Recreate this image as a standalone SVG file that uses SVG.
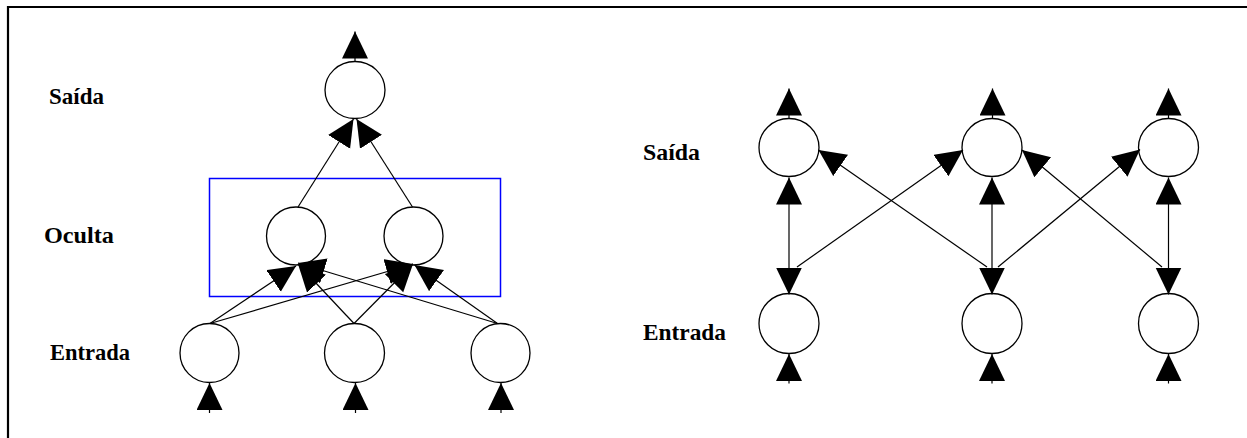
<svg xmlns="http://www.w3.org/2000/svg" width="1247" height="438" viewBox="0 0 1247 438">
<style>
.node{fill:#fff;stroke:#000;stroke-width:1.3}
.edge{fill:none;stroke:#000;stroke-width:1.2;marker-end:url(#arrow)}
.bi{fill:none;stroke:#000;stroke-width:1.2;marker-start:url(#arrowS);marker-end:url(#arrow)}
.lbl{font-family:"Liberation Serif","Times New Roman",serif;font-weight:bold;font-size:23px;fill:#000}
.frame{fill:none;stroke:#000;stroke-width:2.2}
.box{fill:none;stroke:#0000ff;stroke-width:1.5}
</style>
<defs>
<marker id="arrow" markerUnits="userSpaceOnUse" markerWidth="28" markerHeight="27" refX="27" refY="13" orient="auto" viewBox="0 0 28 27">
<path d="M0,0 L27,13 L0,26 z" fill="#000"/>
</marker>
<marker id="arrowS" markerUnits="userSpaceOnUse" markerWidth="28" markerHeight="27" refX="27" refY="13" orient="auto-start-reverse" viewBox="0 0 28 27">
<path d="M0,0 L27,13 L0,26 z" fill="#000"/>
</marker>
</defs>
<rect width="1247" height="438" fill="#fff"/>
<g id="frame">
<path class="frame" d="M8,438 L8,7 L1247,7"/>
</g>
<g id="labels">
<text class="lbl" x="49" y="104" textLength="55" lengthAdjust="spacingAndGlyphs">Saída</text>
<text class="lbl" x="44" y="243" textLength="70" lengthAdjust="spacingAndGlyphs">Oculta</text>
<text class="lbl" x="50" y="360" textLength="80" lengthAdjust="spacingAndGlyphs">Entrada</text>
<text class="lbl" x="643" y="160" textLength="57" lengthAdjust="spacingAndGlyphs">Saída</text>
<text class="lbl" x="643" y="340" textLength="83" lengthAdjust="spacingAndGlyphs">Entrada</text>
</g>
<g id="hidden-layer-box">
<rect class="box" x="209.5" y="178.5" width="291" height="118"/>
</g>
<g id="left-output"><ellipse class="node" cx="355" cy="90" rx="30" ry="28.5"/></g>
<g id="left-hidden-1"><ellipse class="node" cx="296" cy="236" rx="29.5" ry="29"/></g>
<g id="left-hidden-2"><ellipse class="node" cx="413.5" cy="236" rx="29.5" ry="29"/></g>
<g id="left-input-1"><ellipse class="node" cx="209.5" cy="353" rx="29.5" ry="29.5"/></g>
<g id="left-input-2"><ellipse class="node" cx="354.5" cy="353" rx="30" ry="29.5"/></g>
<g id="left-input-3"><ellipse class="node" cx="500.5" cy="353" rx="29.5" ry="29.5"/></g>
<g id="right-output-1"><ellipse class="node" cx="789" cy="147.5" rx="30" ry="29"/></g>
<g id="right-output-2"><ellipse class="node" cx="992" cy="147.5" rx="30" ry="29"/></g>
<g id="right-output-3"><ellipse class="node" cx="1168.5" cy="147.5" rx="30" ry="29"/></g>
<g id="right-input-1"><ellipse class="node" cx="789" cy="323.5" rx="30" ry="30"/></g>
<g id="right-input-2"><ellipse class="node" cx="992" cy="323.5" rx="30" ry="30"/></g>
<g id="right-input-3"><ellipse class="node" cx="1168.5" cy="323.5" rx="30" ry="30"/></g>
<g id="connectors">
<line class="edge" x1="355" y1="61.5" x2="355" y2="31.5"/>
<line class="edge" x1="298" y1="207" x2="353.5" y2="119"/>
<line class="edge" x1="412.5" y1="207" x2="356.5" y2="119"/>
<line class="edge" x1="210" y1="323.5" x2="296" y2="266"/>
<line class="edge" x1="210" y1="323.5" x2="413" y2="264"/>
<line class="edge" x1="354" y1="323.5" x2="298" y2="264"/>
<line class="edge" x1="354" y1="323.5" x2="413" y2="264"/>
<line class="edge" x1="497.5" y1="323.5" x2="298" y2="263"/>
<line class="edge" x1="497.5" y1="323.5" x2="414.5" y2="265"/>
<line class="edge" x1="209.5" y1="413" x2="209.5" y2="383"/>
<line class="edge" x1="355.5" y1="413" x2="355.5" y2="383"/>
<line class="edge" x1="501" y1="413" x2="501" y2="383"/>
<line class="edge" x1="789" y1="118.5" x2="789" y2="88.5"/>
<line class="edge" x1="992.5" y1="118.5" x2="992.5" y2="88.5"/>
<line class="edge" x1="1168.5" y1="118.5" x2="1168.5" y2="88.5"/>
<line class="bi" x1="789" y1="177.5" x2="789" y2="294.5"/>
<line class="bi" x1="992" y1="177.5" x2="992" y2="294.5"/>
<line class="bi" x1="1168.5" y1="177.5" x2="1168.5" y2="294.5"/>
<line class="edge" x1="797" y1="267" x2="963" y2="150"/>
<line class="edge" x1="998" y1="267" x2="1140" y2="149.5"/>
<line class="edge" x1="987" y1="267" x2="818.5" y2="150"/>
<line class="edge" x1="1162" y1="267" x2="1022" y2="150"/>
<line class="edge" x1="789" y1="383.5" x2="789" y2="354"/>
<line class="edge" x1="992" y1="383.5" x2="992" y2="354"/>
<line class="edge" x1="1168.5" y1="383.5" x2="1168.5" y2="354"/>
</g>
</svg>
